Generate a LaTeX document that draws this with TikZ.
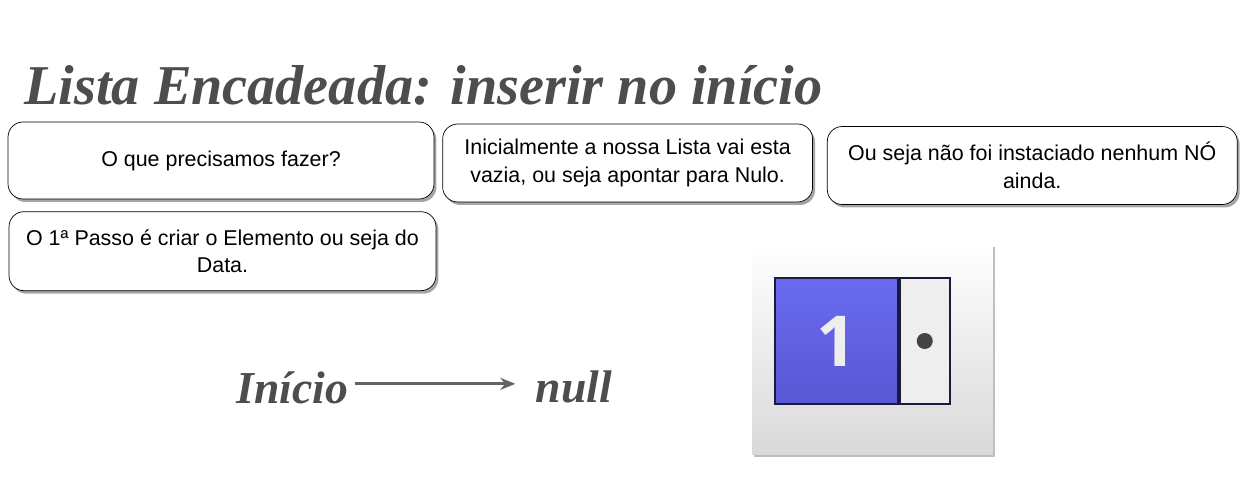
\documentclass[tikz,border=0pt]{standalone}
\usepackage{fontspec}
\setmainfont{Liberation Serif}
\setsansfont{Liberation Sans}
\newfontfamily\digitfont{Open Sans}
\usepackage{tikz}
\usetikzlibrary{arrows.meta, positioning, shadows}
\usepackage{xcolor}
\definecolor{listgray}{RGB}{77,77,77}
\definecolor{listarrow}{RGB}{100,100,100}
\definecolor{listbluetop}{RGB}{106,106,240}
\definecolor{listbluebot}{RGB}{88,88,212}
\definecolor{listnavy}{RGB}{26,26,60}
\definecolor{listptr}{RGB}{238,238,238}
\definecolor{listdot}{RGB}{68,68,68}

\begin{document}
\begin{tikzpicture}[
    x=0.02cm, y=-0.02cm,
    note/.style={rectangle, rounded corners=0.3cm, draw=black, thin,
                 fill=white, align=center, inner sep=2pt,
                 font=\sffamily\fontsize{12.2}{15.6}\selectfont,
                 drop shadow={shadow xshift=0.05cm, shadow yshift=-0.06cm,
                              fill=black, opacity=0.35}},
    bigword/.style={inner sep=0pt, text=listgray,
                    font=\bfseries\itshape\fontsize{26}{30}\selectfont},
    arrow/.style={-{Stealth[length=0.3cm, width=0.24cm]}, line width=1.8pt,
                  listarrow},
    cell/.style={rectangle, draw=listnavy, line width=1pt,
                 minimum height=2.52cm, inner sep=0pt}
]
\useasboundingbox (0,0) rectangle (1246,483);

% title
\node[anchor=base west, inner sep=0pt, text=listgray,
      font=\bfseries\itshape\fontsize{32}{36}\selectfont]
      (title) at (24,105) {Lista Encadeada: inserir no início};

% text boxes
\node[note, minimum width=8.52cm, minimum height=1.54cm] (b1) at (221,160.5)
    {O que precisamos fazer?};
\node[note, minimum width=7.4cm, minimum height=1.56cm,
      right=0.16cm of b1, yshift=-0.05cm] (b2)
    {Inicialmente a nossa Lista vai esta\\vazia, ou seja apontar para Nulo.};
\node[note, minimum width=8.2cm, minimum height=1.56cm,
      right=0.28cm of b2, yshift=-0.05cm] (b3)
    {Ou seja não foi instaciado nenhum NÓ\\ainda.};
\node[note, minimum width=8.54cm, minimum height=1.58cm,
      below=0.24cm of b1.south west, anchor=north west, xshift=0.02cm] (b4)
    {O 1ª Passo é criar o Elemento ou seja do\\Data.};

% inicio -> null
\node[bigword, anchor=base west] (ini) at (236,403) {Início};
\node[bigword, right=3.74cm of ini] (nul) {null};
\draw[arrow, shorten <=0.14cm, shorten >=0.4cm]
    ([yshift=2pt]ini.east) -- ([yshift=2pt]nul.west);

% new element
\node[rectangle, minimum width=4.82cm, minimum height=4.22cm, inner sep=0pt,
      top color=white, bottom color=black!15,
      drop shadow={shadow xshift=0.04cm, shadow yshift=-0.05cm,
                   fill=black, opacity=0.25}] (panel) at (872.5,349.5) {};
\node[cell, minimum width=2.46cm, top color=listbluetop,
      bottom color=listbluebot, text=listptr,
      font=\digitfont\bfseries\fontsize{40}{40}\selectfont] (data) at (836.5,341) {1};
\node[cell, minimum width=1cm, fill=listptr, right=0pt of data] (ptr) {};
\fill[listdot] (ptr.center) circle (0.16cm);
\end{tikzpicture}
\end{document}
